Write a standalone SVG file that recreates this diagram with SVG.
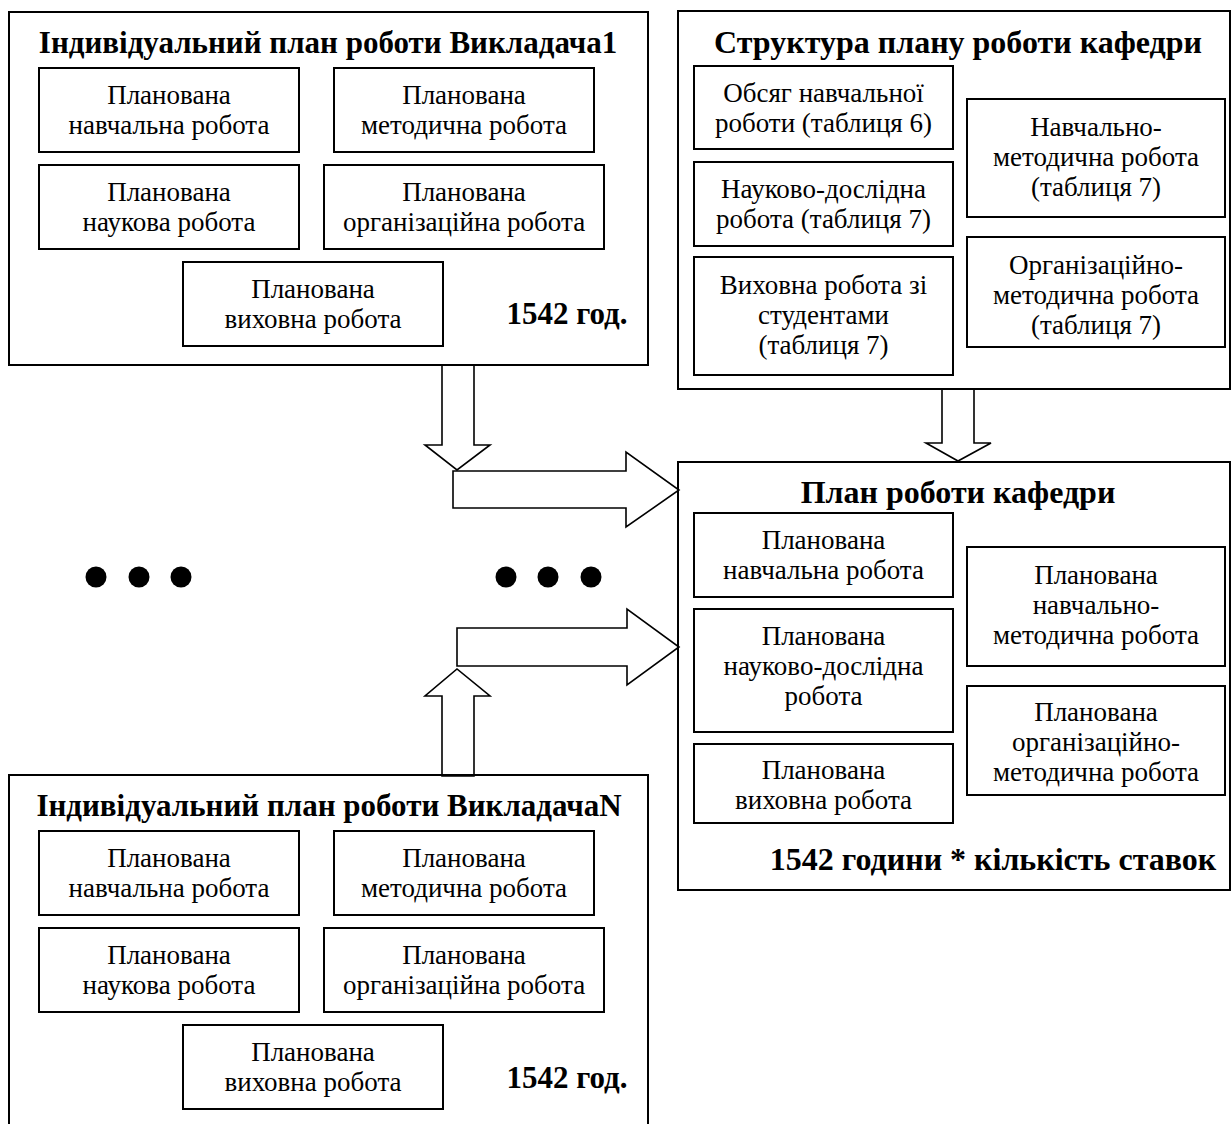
<svg xmlns="http://www.w3.org/2000/svg" width="1232" height="1124" viewBox="0 0 1232 1124">
<style>
  .frame { fill: none; stroke: #000; stroke-width: 2; }
  .box { fill: #fff; stroke: #000; stroke-width: 2; }
  .arr { fill: #fff; stroke: #000; stroke-width: 1.6; stroke-linejoin: miter; }
  .t { font-family: "Liberation Serif", "Times New Roman", serif; font-size: 27px; text-anchor: middle; fill: #000; }
  .h { font-family: "Liberation Serif", "Times New Roman", serif; font-size: 32px; font-weight: bold; text-anchor: middle; fill: #000; }
  .h31 { font-size: 31px; }
  .dot { fill: #000; }
</style>
<rect width="1232" height="1124" fill="#fff"/>

<g id="connectors">
  <polygon class="arr" points="442,365 474,365 474,445 490,445 457,470 425,445 442,445"/>
  <polygon class="arr" points="453,471 626,471 626,452 679,490 626,527 626,508 453,508"/>
  <polygon class="arr" points="457,628 627,628 627,609 679,647 627,685 627,666 457,666"/>
  <polygon class="arr" points="442,776 442,696 425,696 457,669 490,696 474,696 474,776"/>
  <polygon class="arr" points="942,389 974,389 974,443 991,443 958,461 926,443 942,443"/>
</g>

<g id="ellipsis">
  <circle class="dot" cx="96" cy="577" r="10.5"/>
  <circle class="dot" cx="139" cy="577" r="10.5"/>
  <circle class="dot" cx="181" cy="577" r="10.5"/>
  <circle class="dot" cx="506" cy="577" r="10.5"/>
  <circle class="dot" cx="548" cy="577" r="10.5"/>
  <circle class="dot" cx="591" cy="577" r="10.5"/>
</g>

<g id="plan-teacher-1">
  <rect class="frame" x="9" y="12" width="639" height="353"/>
  <text class="h h31" x="328" y="53">Індивідуальний план роботи Викладача1</text>
  <g id="t1-teaching">
    <rect class="box" x="39" y="68" width="260" height="84"/>
    <text class="t" x="169" y="104">Планована<tspan x="169" dy="30">навчальна робота</tspan></text>
  </g>
  <g id="t1-methodical">
    <rect class="box" x="334" y="68" width="260" height="84"/>
    <text class="t" x="464" y="104">Планована<tspan x="464" dy="30">методична робота</tspan></text>
  </g>
  <g id="t1-science">
    <rect class="box" x="39" y="165" width="260" height="84"/>
    <text class="t" x="169" y="201">Планована<tspan x="169" dy="30">наукова робота</tspan></text>
  </g>
  <g id="t1-organizational">
    <rect class="box" x="324" y="165" width="280" height="84"/>
    <text class="t" x="464" y="201">Планована<tspan x="464" dy="30">організаційна робота</tspan></text>
  </g>
  <g id="t1-educational">
    <rect class="box" x="183" y="262" width="260" height="84"/>
    <text class="t" x="313" y="298">Планована<tspan x="313" dy="30">виховна робота</tspan></text>
  </g>
  <text class="h h31" x="567" y="324">1542 год.</text>
</g>

<g id="plan-teacher-n">
  <rect class="frame" x="9" y="775" width="639" height="400"/>
  <text class="h h31" x="329" y="816">Індивідуальний план роботи ВикладачаN</text>
  <g id="tn-teaching">
    <rect class="box" x="39" y="831" width="260" height="84"/>
    <text class="t" x="169" y="867">Планована<tspan x="169" dy="30">навчальна робота</tspan></text>
  </g>
  <g id="tn-methodical">
    <rect class="box" x="334" y="831" width="260" height="84"/>
    <text class="t" x="464" y="867">Планована<tspan x="464" dy="30">методична робота</tspan></text>
  </g>
  <g id="tn-science">
    <rect class="box" x="39" y="928" width="260" height="84"/>
    <text class="t" x="169" y="964">Планована<tspan x="169" dy="30">наукова робота</tspan></text>
  </g>
  <g id="tn-organizational">
    <rect class="box" x="324" y="928" width="280" height="84"/>
    <text class="t" x="464" y="964">Планована<tspan x="464" dy="30">організаційна робота</tspan></text>
  </g>
  <g id="tn-educational">
    <rect class="box" x="183" y="1025" width="260" height="84"/>
    <text class="t" x="313" y="1061">Планована<tspan x="313" dy="30">виховна робота</tspan></text>
  </g>
  <text class="h h31" x="567" y="1088">1542 год.</text>
</g>

<g id="dept-plan-structure">
  <rect class="frame" x="678" y="11" width="552" height="378"/>
  <text class="h" x="958" y="53">Структура плану роботи кафедри</text>
  <g id="s-volume">
    <rect class="box" x="694" y="66" width="259" height="83"/>
    <text class="t" x="823.5" y="102">Обсяг навчальної<tspan x="823.5" dy="30">роботи (таблиця 6)</tspan></text>
  </g>
  <g id="s-research">
    <rect class="box" x="694" y="162" width="259" height="84"/>
    <text class="t" x="823.5" y="198">Науково-дослідна<tspan x="823.5" dy="30">робота (таблиця 7)</tspan></text>
  </g>
  <g id="s-educational">
    <rect class="box" x="694" y="257" width="259" height="118"/>
    <text class="t" x="823.5" y="294">Виховна робота зі<tspan x="823.5" dy="30">студентами</tspan><tspan x="823.5" dy="30">(таблиця 7)</tspan></text>
  </g>
  <g id="s-teaching-methodical">
    <rect class="box" x="967" y="99" width="258" height="118"/>
    <text class="t" x="1096" y="136">Навчально-<tspan x="1096" dy="30">методична робота</tspan><tspan x="1096" dy="30">(таблиця 7)</tspan></text>
  </g>
  <g id="s-org-methodical">
    <rect class="box" x="967" y="237" width="258" height="110"/>
    <text class="t" x="1096" y="274">Організаційно-<tspan x="1096" dy="30">методична робота</tspan><tspan x="1096" dy="30">(таблиця 7)</tspan></text>
  </g>
</g>

<g id="dept-plan">
  <rect class="frame" x="678" y="462" width="552" height="428"/>
  <text class="h" x="958" y="503">План роботи кафедри</text>
  <g id="d-teaching">
    <rect class="box" x="694" y="513" width="259" height="84"/>
    <text class="t" x="823.5" y="549">Планована<tspan x="823.5" dy="30">навчальна робота</tspan></text>
  </g>
  <g id="d-research">
    <rect class="box" x="694" y="609" width="259" height="123"/>
    <text class="t" x="823.5" y="645">Планована<tspan x="823.5" dy="30">науково-дослідна</tspan><tspan x="823.5" dy="30">робота</tspan></text>
  </g>
  <g id="d-educational">
    <rect class="box" x="694" y="744" width="259" height="79"/>
    <text class="t" x="823.5" y="779">Планована<tspan x="823.5" dy="30">виховна робота</tspan></text>
  </g>
  <g id="d-teaching-methodical">
    <rect class="box" x="967" y="547" width="258" height="119"/>
    <text class="t" x="1096" y="584">Планована<tspan x="1096" dy="30">навчально-</tspan><tspan x="1096" dy="30">методична робота</tspan></text>
  </g>
  <g id="d-org-methodical">
    <rect class="box" x="967" y="686" width="258" height="109"/>
    <text class="t" x="1096" y="721">Планована<tspan x="1096" dy="30">організаційно-</tspan><tspan x="1096" dy="30">методична робота</tspan></text>
  </g>
  <text class="h" x="993" y="870">1542 години * кількість ставок</text>
</g>
</svg>
